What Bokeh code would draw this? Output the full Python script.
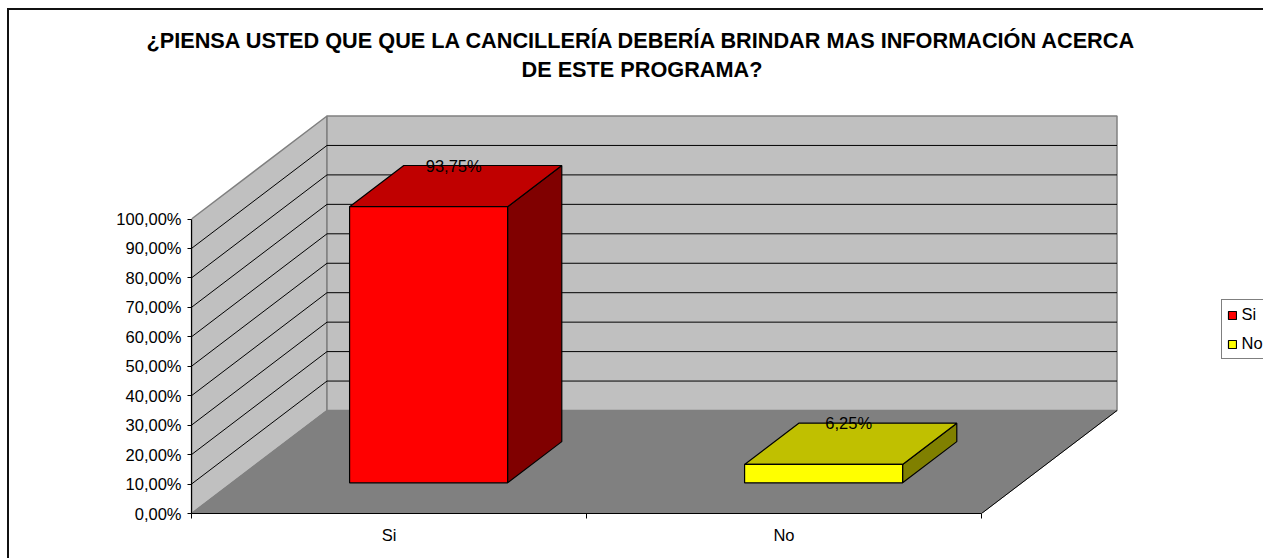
from bokeh.plotting import figure
from bokeh.embed import file_html
from bokeh.resources import INLINE
from bokeh.models import Range1d, LinearAxis, FixedTicker, Legend, LegendItem, Title
from bokeh.core.properties import value

TITLE_LINES = ["¿PIENSA USTED QUE QUE LA CANCILLERÍA DEBERÍA BRINDAR MAS INFORMACIÓN ACERCA",
               "DE ESTE PROGRAMA?"]
categories = ["Si", "No"]
values = [93.75, 6.25]
value_labels = ["93,75%", "6,25%"]
y_ticks = [0, 10, 20, 30, 40, 50, 60, 70, 80, 90, 100]
y_tick_labels = ["0,00%", "10,00%", "20,00%", "30,00%", "40,00%", "50,00%",
                 "60,00%", "70,00%", "80,00%", "90,00%", "100,00%"]
front_colors = ["#FF0000", "#FFFF00"]
top_colors = ["#C00000", "#C0C000"]
side_colors = ["#800000", "#808000"]

FONT = "Liberation Sans"
TXT = "16.5px"
W_PAGE, H_PAGE = 1263, 558
OX, OY = 9, 10        # figure's offset on the page
LEFT, TOP, BOTTOM = 191, 114, 513
U_PX = 395.0          # pixels per category
V_PX = 2.945          # pixels per percent
DX = 135.5 / U_PX     # depth shift, category units
DY = 103.0 / V_PX     # depth shift, percent units
N = len(categories)
BAR_LO, BAR_HI = 0.298, 0.698

p = figure(width=W_PAGE - OX, height=H_PAGE - OY, output_backend="svg", toolbar_location=None,
           x_axis_type=None, y_axis_type=None,
           x_range=Range1d(0, (W_PAGE - LEFT) / U_PX),
           y_range=Range1d(0, (BOTTOM - TOP) / V_PX),
           min_border_left=LEFT - OX, min_border_right=0,
           min_border_top=TOP - OY, min_border_bottom=H_PAGE - BOTTOM,
           outline_line_color=None, background_fill_color=None,
           margin=(OY, 0, 0, OX),
           styles={"outline": "2px solid #111111"})
p.grid.visible = False

# the first title added sits nearest the plot; a blank one keeps the gap above the chart
for line, start, standoff in [(" ", 0, 5), (TITLE_LINES[1], 521, 2), (TITLE_LINES[0], 146, 2)]:
    t = Title(text=line, text_font=FONT, text_font_size="21.7px", text_font_style="bold",
              text_color="black", align="left", offset=start - LEFT, standoff=standoff)
    p.add_layout(t, "above")

ymax = max(y_ticks)
# walls and floor
p.patch([0, 0, DX, DX], [0, ymax, ymax + DY, DY], fill_color="#C0C0C0", line_color="#808080", line_width=1.5)
p.quad(left=[DX], right=[N + DX], bottom=[DY], top=[ymax + DY], fill_color="#C0C0C0", line_color="#808080", line_width=1.5)
p.patch([0, N, N + DX, DX], [0, 0, DY, DY], fill_color="#808080", line_color="#808080")
p.line([N, N + DX], [0, DY], line_color="black", line_width=1)

# gridlines
ticks = [t for t in y_ticks if 0 < t < ymax]
p.segment(x0=[0] * len(ticks), y0=ticks, x1=[DX] * len(ticks), y1=[t + DY for t in ticks],
          line_color="black", line_width=1)
p.segment(x0=[DX] * len(ticks), y0=[t + DY for t in ticks], x1=[N + DX] * len(ticks), y1=[t + DY for t in ticks],
          line_color="black", line_width=1)

# bars
fronts = []
for i, v in enumerate(values):
    x0 = i + BAR_LO + BAR_LO * DX
    x1 = i + BAR_HI + BAR_LO * DX
    y0 = BAR_LO * DY
    y1 = v + BAR_LO * DY
    dx = (BAR_HI - BAR_LO) * DX
    dy = (BAR_HI - BAR_LO) * DY
    p.patch([x1, x1 + dx, x1 + dx, x1], [y0, y0 + dy, y1 + dy, y1],
            fill_color=side_colors[i], line_color="black", line_width=1.2)
    p.patch([x0, x1, x1 + dx, x0 + dx], [y1, y1, y1 + dy, y1 + dy],
            fill_color=top_colors[i], line_color="black", line_width=1.2)
    r = p.quad(left=[x0], right=[x1], bottom=[y0], top=[y1],
               fill_color=front_colors[i], line_color="black", line_width=1.2)
    fronts.append(r)
    p.text([(x0 + x1) / 2 + dx / 2], [y1 + dy], text=[value_labels[i]],
           text_font=value(FONT), text_font_size=TXT, text_color="black",
           text_align="center", text_baseline="middle", x_offset=-2)

# axes
ya = LinearAxis(ticker=FixedTicker(ticks=y_ticks), bounds=(0, ymax))
ya.major_label_overrides = dict(zip(y_ticks, y_tick_labels))
ya.major_label_text_font = FONT
ya.major_label_text_font_size = TXT
ya.major_label_text_color = "black"
ya.major_tick_in = 0
ya.major_tick_out = 4
ya.minor_tick_line_color = None
ya.major_label_standoff = 6
ya.axis_line_color = "black"
ya.axis_line_width = 1.2
p.add_layout(ya, "left")

centers = [i + 0.5 for i in range(N)]
xa = LinearAxis(ticker=FixedTicker(ticks=centers, minor_ticks=list(range(N + 1))), bounds=(0, N))
xa.major_label_overrides = dict(zip(centers, categories))
xa.major_label_text_font = FONT
xa.major_label_text_font_size = TXT
xa.major_label_text_color = "black"
xa.major_tick_line_color = None
xa.major_tick_in = 0
xa.major_tick_out = 0
xa.minor_tick_in = 0
xa.minor_tick_out = 5
xa.minor_tick_line_color = "black"
xa.major_label_standoff = 7
xa.axis_line_color = "black"
xa.axis_line_width = 1.2
p.add_layout(xa, "below")

legend = Legend(items=[LegendItem(label=c, renderers=[fronts[i]]) for i, c in enumerate(categories)],
                location=(1220.5 - LEFT, BOTTOM - 359),
                label_text_font=FONT, label_text_font_size=TXT, label_text_color="black",
                glyph_width=10, glyph_height=10, label_standoff=5, label_width=30,
                spacing=10, padding=5, margin=0,
                border_line_color="black", border_line_width=1.2,
                background_fill_color="white", background_fill_alpha=1)
p.add_layout(legend, "center")

open("out.html", "w").write(file_html(p, INLINE))
